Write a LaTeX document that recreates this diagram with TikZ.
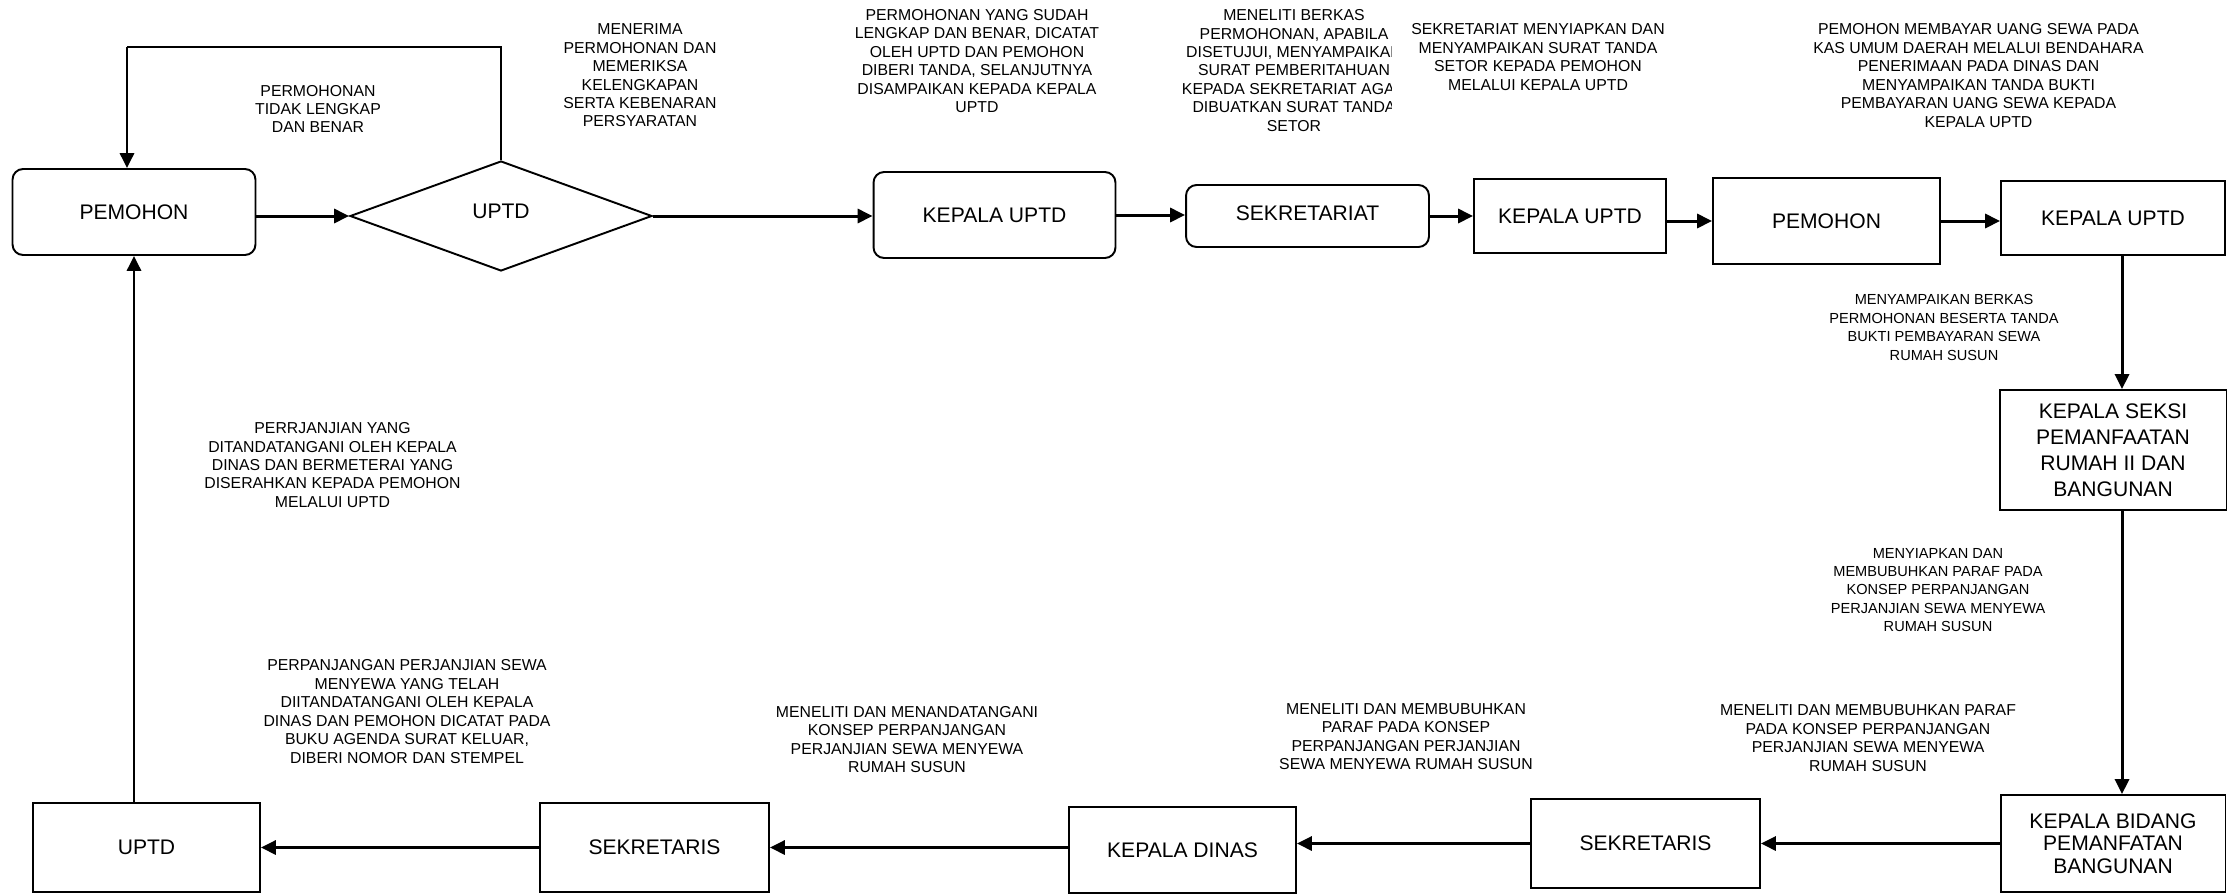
\documentclass[tikz,border=0pt]{standalone}
\usepackage{fontspec}
\setmainfont{Liberation Sans}
\usetikzlibrary{arrows.meta,shapes.geometric}

\begin{document}
\begin{tikzpicture}[x=0.02cm, y=-0.02cm,
  box/.style={draw, line width=1.1pt, font=\fontsize{12}{14.8}\selectfont, align=center, inner sep=2pt},
  rbox/.style={box, rounded corners=6pt},
  lbl/.style={font=\fontsize{9}{10.5}\selectfont, align=center, inner sep=0pt},
  arr/.style={line width=1.7pt, -{Triangle[length=8.5pt,width=8pt]}},
  fb/.style={line width=0.6pt}]
\useasboundingbox (0,0) rectangle (2227,893);

% top row
\node[rbox, minimum width=4.86cm, minimum height=1.72cm] (P1) at (134,212) {PEMOHON};
\node[draw, diamond, line width=1.1pt, font=\fontsize{12}{14.8}\selectfont, minimum width=6.04cm, minimum height=2.2cm, inner sep=0pt] (U0) at (501,216) {\raisebox{0.18cm}{UPTD}};
\node[rbox, minimum width=4.84cm, minimum height=1.72cm] (K1) at (994.5,215) {KEPALA UPTD};
\node[rbox, minimum width=4.86cm, minimum height=1.24cm] (S1) at (1307.5,216) {\raisebox{0.1cm}{SEKRETARIAT}};
\node[box, minimum width=3.84cm, minimum height=1.48cm] (K2) at (1570,216) {KEPALA UPTD};
\node[box, minimum width=4.54cm, minimum height=1.72cm] (P2) at (1826.5,221) {PEMOHON};
\node[box, minimum width=4.48cm, minimum height=1.48cm] (K3) at (2113,218) {KEPALA UPTD};

% right column
\node[box, minimum width=4.54cm, minimum height=2.4cm] (KS) at (2113,450) {KEPALA SEKSI\\PEMANFAATAN\\RUMAH II DAN\\BANGUNAN};
\node[box, font=\fontsize{12}{12.8}\selectfont, minimum width=4.5cm, minimum height=1.94cm] (KB) at (2113,843.5) {KEPALA BIDANG\\PEMANFATAN\\BANGUNAN};

% bottom row
\node[box, minimum width=4.58cm, minimum height=1.78cm] (S2) at (1645.5,843.5) {SEKRETARIS};
\node[box, minimum width=4.54cm, minimum height=1.72cm] (KD) at (1182.5,850) {KEPALA DINAS};
\node[box, minimum width=4.58cm, minimum height=1.78cm] (S3) at (654.5,847.5) {SEKRETARIS};
\node[box, minimum width=4.54cm, minimum height=1.78cm] (U1) at (146.5,847.5) {UPTD};

% labels
\node[lbl] (T1) at (318,109) {PERMOHONAN\\TIDAK LENGKAP\\DAN BENAR};
\node[lbl] (T2) at (640,75.5) {MENERIMA\\PERMOHONAN DAN\\MEMERIKSA\\KELENGKAPAN\\SERTA KEBENARAN\\PERSYARATAN};
\node[lbl] (T3) at (977,61) {PERMOHONAN YANG SUDAH\\LENGKAP DAN BENAR, DICATAT\\OLEH UPTD DAN PEMOHON\\DIBERI TANDA, SELANJUTNYA\\DISAMPAIKAN KEPADA KEPALA\\UPTD};
\begin{scope}
\clip (1100,0) rectangle (1391,200);
\node[lbl] (T4) at (1294,70.5) {MENELITI BERKAS\\PERMOHONAN, APABILA\\DISETUJUI, MENYAMPAIKAN\\SURAT PEMBERITAHUAN\\KEPADA SEKRETARIAT AGAR\\DIBUATKAN SURAT TANDA\\SETOR};
\end{scope}
\node[lbl] (T5) at (1538,57) {SEKRETARIAT MENYIAPKAN DAN\\MENYAMPAIKAN SURAT TANDA\\SETOR KEPADA PEMOHON\\MELALUI KEPALA UPTD};
\node[lbl] (T6) at (1978.5,75.5) {PEMOHON MEMBAYAR UANG SEWA PADA\\KAS UMUM DAERAH MELALUI BENDAHARA\\PENERIMAAN PADA DINAS DAN\\MENYAMPAIKAN TANDA BUKTI\\PEMBAYARAN UANG SEWA KEPADA\\KEPALA UPTD};
\node[lbl, font=\fontsize{8.3}{10.5}\selectfont] (T7) at (1944,327.5) {MENYAMPAIKAN BERKAS\\PERMOHONAN BESERTA TANDA\\BUKTI PEMBAYARAN SEWA\\RUMAH SUSUN};
\node[lbl, font=\fontsize{8.3}{10.5}\selectfont] (T8) at (1938,590) {MENYIAPKAN DAN\\MEMBUBUHKAN PARAF PADA\\KONSEP PERPANJANGAN\\PERJANJIAN SEWA MENYEWA\\RUMAH SUSUN};
\node[lbl] (T9) at (1868,738) {MENELITI DAN MEMBUBUHKAN PARAF\\PADA KONSEP PERPANJANGAN\\PERJANJIAN SEWA MENYEWA\\RUMAH SUSUN};
\node[lbl] (T10) at (1406,736.5) {MENELITI DAN MEMBUBUHKAN\\PARAF PADA KONSEP\\PERPANJANGAN PERJANJIAN\\SEWA MENYEWA RUMAH SUSUN};
\node[lbl] (T11) at (907,739.5) {MENELITI DAN MENANDATANGANI\\KONSEP PERPANJANGAN\\PERJANJIAN SEWA MENYEWA\\RUMAH SUSUN};
\node[lbl] (T12) at (407,711.5) {PERPANJANGAN PERJANJIAN SEWA\\MENYEWA YANG TELAH\\DIITANDATANGANI OLEH KEPALA\\DINAS DAN PEMOHON DICATAT PADA\\BUKU AGENDA SURAT KELUAR,\\DIBERI NOMOR DAN STEMPEL};
\node[lbl] (T13) at (332.5,465) {PERRJANJIAN YANG\\DITANDATANGANI OLEH KEPALA\\DINAS DAN BERMETERAI YANG\\DISERAHKAN KEPADA PEMOHON\\MELALUI UPTD};

% connectors
\draw[arr] (P1.east |- U0.west) -- (U0.west);
\draw[arr] (U0.east) -- (U0.east -| K1.west);
\draw[arr] (K1) -- (K1 -| S1.west);
\draw[arr] (S1) -- (S1 -| K2.west);
\draw[arr] (P2.west -| K2.east) -- (P2.west);
\draw[arr] (P2) -- (P2 -| K3.west);
\draw[arr] ([xshift=0.18cm]K3.south) -- ([xshift=0.18cm]KS.north);
\draw[arr] ([xshift=0.18cm]KS.south) -- ([xshift=0.18cm]KB.north);
\draw[arr] (KB) -- (KB -| S2.east);
\draw[arr] (S2) -- (S2 -| KD.east);
\draw[arr] (S3 -| KD.west) -- (S3.east);
\draw[arr] (S3) -- (S3 -| U1.east);
\draw[arr] (U1.north -| P1.south) -- (P1.south);

% back to the applicant
\coordinate (F) at (127,47);
\draw[fb] (U0.north) |- (F);
\draw[arr] (F) -- (F |- P1.north);
\end{tikzpicture}
\end{document}
